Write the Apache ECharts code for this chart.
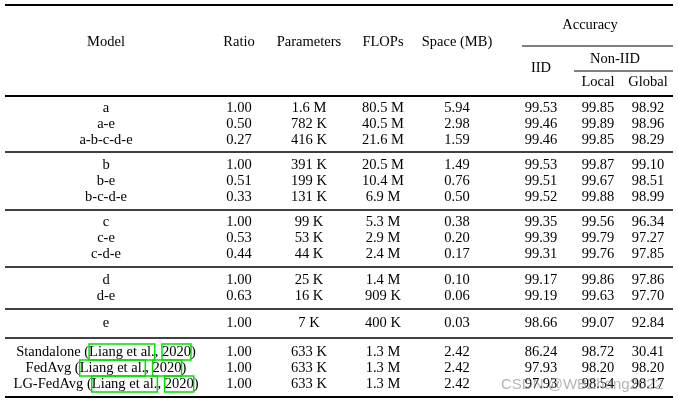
<!DOCTYPE html>
<html lang="en">
<head>
  <meta charset="UTF-8" />
  <title>Table</title>
  <script src="https://cdn.jsdelivr.net/npm/echarts@6/dist/echarts.min.js"></script>
</head>
<body style="margin:0;background:#fff">
  <div id="main" style="width:678px;height:403px;"></div>
  <script type="text/javascript">
    // table data
    var headers = ['Model', 'Ratio', 'Parameters', 'FLOPs', 'Space (MB)']
    var models = ['a', 'a-e', 'a-b-c-d-e', 'b', 'b-e', 'b-c-d-e', 'c', 'c-e', 'c-d-e', 'd', 'd-e', 'e',
      'Standalone (', 'FedAvg (', 'LG-FedAvg (']
    var ratio = ['1.00', '0.50', '0.27', '1.00', '0.51', '0.33', '1.00', '0.53', '0.44', '1.00', '0.63', '1.00', '1.00', '1.00', '1.00']
    var params = ['1.6 M', '782 K', '416 K', '391 K', '199 K', '131 K', '99 K', '53 K', '44 K', '25 K', '16 K', '7 K', '633 K', '633 K', '633 K']
    var flops = ['80.5 M', '40.5 M', '21.6 M', '20.5 M', '10.4 M', '6.9 M', '5.3 M', '2.9 M', '2.4 M', '1.4 M', '909 K', '400 K', '1.3 M', '1.3 M', '1.3 M']
    var space = ['5.94', '2.98', '1.59', '1.49', '0.76', '0.50', '0.38', '0.20', '0.17', '0.10', '0.06', '0.03', '2.42', '2.42', '2.42']
    var iid = ['99.53', '99.46', '99.46', '99.53', '99.51', '99.52', '99.35', '99.39', '99.31', '99.17', '99.19', '98.66', '86.24', '97.93', '97.93']
    var local = ['99.85', '99.89', '99.85', '99.87', '99.67', '99.88', '99.56', '99.79', '99.76', '99.86', '99.63', '99.07', '98.72', '98.20', '98.54']
    var global = ['98.92', '98.96', '98.29', '99.10', '98.51', '98.99', '96.34', '97.27', '97.85', '97.86', '97.70', '92.84', '30.41', '98.20', '98.17']

    var rowY = [108, 124, 140, 165, 181, 197, 222, 238, 254, 280, 296, 323, 352, 368, 384]
    var ruleY = [152, 210, 267, 309, 338]
    var colX = [106, 239, 309, 383, 457, 541, 598, 648]
    var font = '14.5px "Liberation Serif", "DejaVu Serif", serif'

    var g = []
    function txt(x, y, s, extra) {
      var st = { text: s, x: x, y: y, align: 'center', verticalAlign: 'middle', font: font, fill: '#000' }
      if (extra) Object.assign(st, extra)
      g.push({ type: 'text', style: st })
    }
    function line(x1, x2, y, w) {
      g.push({ type: 'line', shape: { x1: x1, y1: y, x2: x2, y2: y }, style: { stroke: '#000', lineWidth: w } })
    }

    // header
    headers.forEach(function (h, i) { txt(colX[i], 42, h) })
    txt(590, 25, 'Accuracy')
    txt(colX[5], 68, 'IID')
    txt(615, 59, 'Non-IID')
    txt(colX[6], 82, 'Local')
    txt(colX[7], 82, 'Global')
    line(5, 673, 5, 2)
    line(522, 673, 46, 1)
    line(574, 673, 71, 1)
    line(5, 673, 96, 2)
    ruleY.forEach(function (y) { line(5, 673, y, 1.5) })
    line(5, 673, 397, 2)

    // rows
    var rich = { c: { borderColor: '#00e000', borderWidth: 1.5, padding: [1, 0, 0, 0], font: font } }
    models.forEach(function (m, i) {
      if (m.slice(-1) === '(') {
        txt(colX[0], rowY[i], m + '{c|Liang et al.}, {c|2020})', { rich: rich })
      } else {
        txt(colX[0], rowY[i], m)
      }
      txt(colX[1], rowY[i], ratio[i])
      txt(colX[2], rowY[i], params[i])
      txt(colX[3], rowY[i], flops[i])
      txt(colX[4], rowY[i], space[i])
      txt(colX[5], rowY[i], iid[i])
      txt(colX[6], rowY[i], local[i])
      txt(colX[7], rowY[i], global[i])
    })

    // watermark
    txt(582, 385, 'CSDN @WBZhang2022', { font: '15px "Liberation Sans", sans-serif', fill: 'rgba(120,120,120,0.55)' })

    var myChart = echarts.init(document.getElementById('main'))
    myChart.setOption({ animation: false, graphic: g })
  </script>
</body>
</html>
